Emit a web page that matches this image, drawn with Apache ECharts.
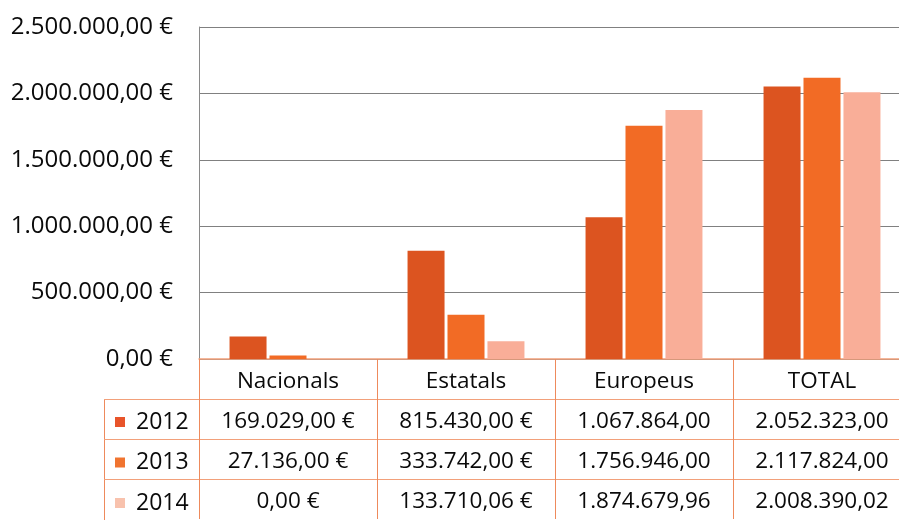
<!DOCTYPE html>
<html><head><meta charset="utf-8">
<script src="https://cdn.jsdelivr.net/npm/echarts@6/dist/echarts.min.js"></script>
<style>html,body{margin:0;padding:0;background:#fff;overflow:hidden;width:899px;height:520px}#c{width:911px;height:520px}</style>
</head><body><div id="c"></div>
<script>
const categories = ['Nacionals', 'Estatals', 'Europeus', 'TOTAL'];
const years = ['2012', '2013', '2014'];
const values2012 = [169029.00, 815430.00, 1067864.00, 2052323.00];
const values2013 = [27136.00, 333742.00, 1756946.00, 2117824.00];
const values2014 = [0.00, 133710.06, 1874679.96, 2008390.02];
const tableSuffix = [' €', ' €', '', ''];
const yTicks = [0, 500000, 1000000, 1500000, 2000000, 2500000];
const colors = ['#dc5420', '#f26b25', '#f9ae98'];
const legendColors = ['#e8542a', '#f07430', '#f8c2ad'];

function fmt(v) {
  const parts = v.toFixed(2).split('.');
  return parts[0].replace(/\B(?=(\d{3})+(?!\d))/g, '.') + ',' + parts[1];
}
const FONT = '"Open Sans", sans-serif';
const TXT = '#0a0a0a';
const LINE = '#f2a07a';
const allValues = [values2012, values2013, values2014];

const rowAxes = allValues.map((vals, k) => ({
  type: 'category',
  gridIndex: 0,
  position: 'bottom',
  offset: 40 * (k + 1),
  data: categories.map((c, i) => fmt(vals[i]) + tableSuffix[i]),
  axisLine: { show: true, lineStyle: { color: LINE, width: 1 } },
  axisTick: { show: true, length: 40, lineStyle: { color: '#ee8a5c', width: 1 } },
  axisLabel: { interval: 0, margin: 23, verticalAlign: 'middle', fontFamily: FONT, fontSize: 22.5, color: TXT }
}));

const chart = echarts.init(document.getElementById('c'), null, { renderer: 'canvas' });
chart.setOption({
  animation: false,
  backgroundColor: '#fff',
  grid: { left: 199, top: 27, right: 0, height: 332 },
  legend: {
    data: years.map((y, k) => ({ name: y, itemStyle: { color: legendColors[k] } })),
    orient: 'vertical',
    left: 115,
    top: 402,
    height: 140,
    padding: 0,
    itemWidth: 10,
    itemHeight: 10,
    itemGap: 0.5,
    icon: 'rect',
    textStyle: { fontFamily: FONT, fontSize: 23, color: TXT, lineHeight: 40, padding: [0, 0, 0, 6] }
  },
  xAxis: [{
    type: 'category',
    data: categories,
    position: 'bottom',
    axisLine: { show: true, lineStyle: { color: LINE, width: 1.5 } },
    axisTick: { show: true, length: 40, lineStyle: { color: '#ee8a5c', width: 1 } },
    axisLabel: { interval: 0, margin: 23, verticalAlign: 'middle', fontFamily: FONT, fontSize: 22.5, color: TXT }
  }].concat(rowAxes),
  yAxis: {
    type: 'value',
    min: 0, max: 2500000, interval: 500000,
    axisLine: { show: true, lineStyle: { color: '#8a8a8a', width: 1 } },
    axisTick: { show: false },
    splitLine: { show: true, lineStyle: { color: '#808080', width: 1 } },
    axisLabel: { margin: 26, fontFamily: FONT, fontSize: 24, color: TXT,
      formatter: v => yTicks.indexOf(v) >= 0 ? fmt(v) + ' €' : '' }
  },
  series: allValues.map((vals, k) => ({
    name: years[k],
    type: 'bar',
    xAxisIndex: 0,
    data: vals,
    barWidth: 37,
    barGap: '8%',
    itemStyle: { color: colors[k] }
  })),
  graphic: [
    { type: 'line', shape: { x1: 104.5, y1: 399.5, x2: 104.5, y2: 520 }, style: { stroke: '#ee8a5c', lineWidth: 1 } },
    { type: 'line', shape: { x1: 104, y1: 399.5, x2: 199, y2: 399.5 }, style: { stroke: LINE, lineWidth: 1 } },
    { type: 'line', shape: { x1: 104, y1: 439.5, x2: 199, y2: 439.5 }, style: { stroke: LINE, lineWidth: 1 } },
    { type: 'line', shape: { x1: 104, y1: 479.5, x2: 199, y2: 479.5 }, style: { stroke: LINE, lineWidth: 1 } }
  ]
});
</script></body></html>
